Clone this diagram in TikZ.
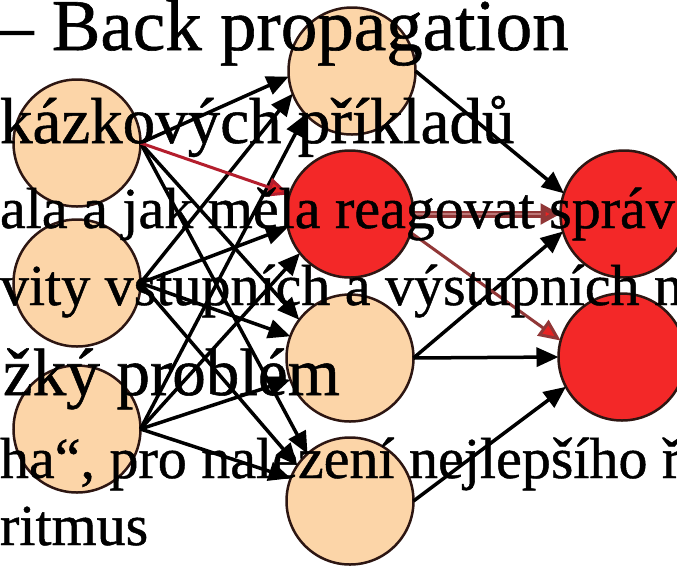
\documentclass[tikz,border=0pt]{standalone}
\usepackage{fontspec}
\setmainfont[FakeBold=0.8]{Liberation Serif}
\usetikzlibrary{arrows.meta}
\definecolor{peach}{RGB}{252,213,168}
\definecolor{hotred}{RGB}{243,40,40}
\definecolor{nodeline}{RGB}{45,22,18}
\definecolor{redline}{RGB}{180,30,45}
\definecolor{arrowred}{RGB}{232,35,35}
\definecolor{brownred}{RGB}{145,55,55}
\definecolor{lightbrown}{RGB}{190,120,120}
\begin{document}
\begin{tikzpicture}[x=1pt,y=-1pt,
  neuron/.style={circle, minimum size=127pt, inner sep=0pt, outer sep=0pt, draw=nodeline, line width=2.5pt},
  inp/.style={neuron, fill=peach},
  hot/.style={neuron, fill=hotred},
  conn/.style={line width=3.5pt, draw=black, -{Triangle[length=22pt,width=19pt]}},
  redconn/.style={line width=3pt, draw=redline, -{Triangle[length=22pt,width=19pt,fill=arrowred]}},
  thickred/.style={line width=7pt, draw=brownred, -{Triangle[length=20pt,width=20pt,fill=arrowred]}},
  thinred/.style={line width=3pt, draw=brownred, -{Triangle[length=22pt,width=19pt,fill=arrowred]}},
  txt/.style={inner sep=0pt, outer sep=0pt, anchor=base west, text=black},
  big/.style={txt, font=\fontsize{65}{65}\selectfont},
  small/.style={txt, font=\fontsize{58}{58}\selectfont}
]
\useasboundingbox (0,0) rectangle (677,566);
\clip (0,0) rectangle (677,566);
\fill[white] (0,0) rectangle (677,566);

% neurons
\node[inp] (I1) at (77,143) {};
\node[inp] (I2) at (77,283) {};
\node[inp] (I3) at (77,429) {};
\node[inp] (H1) at (352,71) {};
\node[hot] (H2) at (350,214) {};
\node[inp] (H3) at (350,358) {};
\node[inp] (H4) at (350,501) {};
\node[hot] (O1) at (624,214) {};
\node[hot] (O2) at (622,357) {};

% input -> hidden
\draw[conn] (I1.east) -- (H1.185);
\draw[conn] (I2.east) -- (H1.201);
\draw[conn] (I3.east) -- (H1.223);
\draw[conn] (I2.east) -- (H2.192);
\draw[conn] (I3.east) -- (H2.218);
\draw[conn] (I1.east) -- (H3.143);
\draw[conn] (I2.east) -- (H3.160);
\draw[conn] (I3.east) -- (H3.200);
\draw[conn] (I1.east) -- (H4.132);
\draw[conn] (I2.east) -- (H4.146);
\draw[conn] (I3.east) -- (H4.159);
\draw[redconn] (I1.east) -- (H2.162);

% hidden -> output
\draw[conn] (H1.east) -- (O1.161);
\draw[conn] (H3.east) -- (O1.196);
\draw[conn] (H3.east) -- (O2.west);
\draw[conn] (H4.east) -- (O2.208);
\draw[thickred] (H2.east) -- (O1.west);
\draw[line width=2.5pt, draw=lightbrown, shorten >=20pt] (H2.east) -- (O1.west);
\draw[thinred] (H2.-17) -- (O2.165);

% text on top
\node[txt, font=\fontsize{73}{73}\selectfont] (t1) at (-3,50) {– Back propagation};
\node[big] (t2) at (0,143) {kázkových příkladů};
\node[small] (t3) at (0,228) {ala a jak měla reagovat správ};
\node[small] (t4) at (0,305) {vity vstupních a výstupních n};
\node[txt, font=\fontsize{67}{67}\selectfont] (t5) at (3,395) {žký problém};
\node[small] (t6) at (0,478) {ha“, pro nalezení nejlepšího ř};
\node[small] (t7) at (0,545) {ritmus};
\end{tikzpicture}
\end{document}
